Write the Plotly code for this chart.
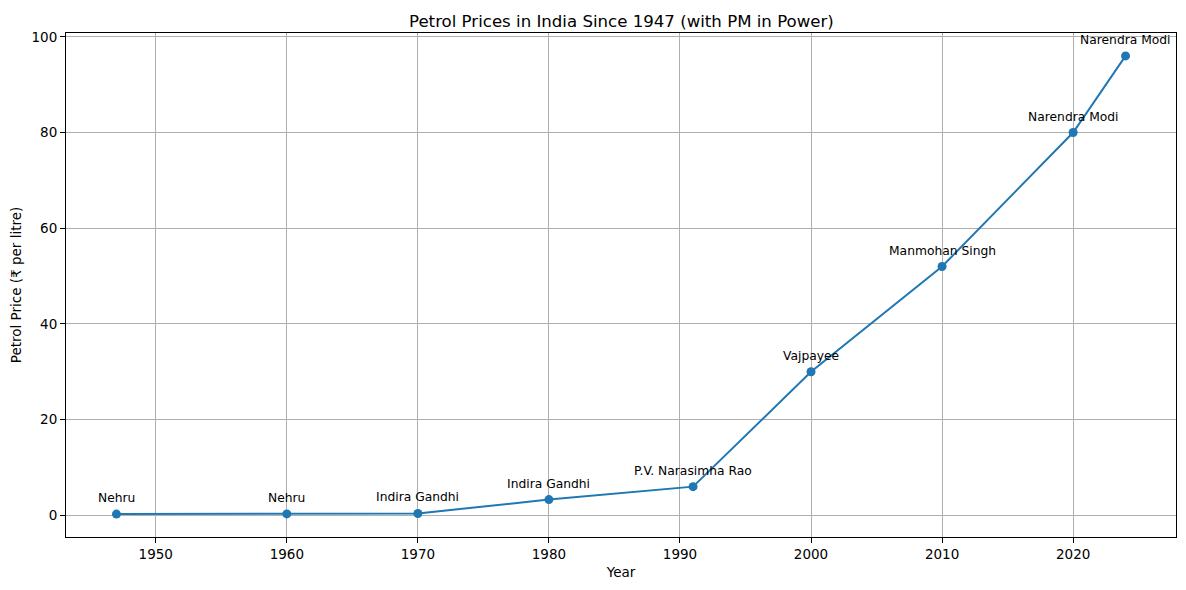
import plotly.graph_objects as go

years = [1947, 1960, 1970, 1980, 1991, 2000, 2010, 2020, 2024]
prices = [0.27, 0.30, 0.40, 3.3, 6.0, 30.0, 52.0, 80.0, 96.0]
pms = ["Nehru", "Nehru", "Indira Gandhi", "Indira Gandhi", "P.V. Narasimha Rao",
       "Vajpayee", "Manmohan Singh", "Narendra Modi", "Narendra Modi"]

title_text = "Petrol Prices in India Since 1947 (with PM in Power)"
x_label = "Year"
y_label = "Petrol Price (₹ per litre)"

FONT = "DejaVu Sans"
BLUE = "#1f77b4"

fig = go.Figure()
fig.add_trace(go.Scatter(
    x=years, y=prices, mode="lines+markers",
    line=dict(color=BLUE, width=2),
    marker=dict(color=BLUE, size=9),
    showlegend=False, hoverinfo="skip",
))

for xv, yv, t in zip(years, prices, pms):
    fig.add_annotation(x=xv, y=yv, text=t, showarrow=False,
                       xanchor="center", yanchor="bottom", yshift=7,
                       font=dict(family=FONT, size=12.3, color="black"))

fig.add_annotation(x=0.5, y=1, xref="paper", yref="paper", text=title_text,
                   showarrow=False, xanchor="center", yanchor="bottom", yshift=1,
                   borderpad=0,
                   font=dict(family=FONT, size=16.6, color="black"))

axis_common = dict(
    showline=True, linecolor="black", linewidth=1.1, mirror=True,
    showgrid=True, gridcolor="#b0b0b0", gridwidth=1.1,
    ticks="outside", ticklen=5, tickwidth=1.1, tickcolor="black",
    tickfont=dict(family=FONT, size=13.5, color="black"),
    zeroline=False, automargin=False,
)

fig.update_layout(
    width=1186, height=590,
    paper_bgcolor="white", plot_bgcolor="white",
    margin=dict(l=58, r=18, t=25, b=61),
    xaxis=dict(range=[1943.15, 2027.85], tickmode="linear", tick0=1950, dtick=10,
               title=dict(text=x_label, standoff=6,
                          font=dict(family=FONT, size=13.5, color="black")),
               **axis_common),
    yaxis=dict(range=[-4.52, 100.79], tickmode="linear", tick0=0, dtick=20,
               title=dict(text=y_label, standoff=14,
                          font=dict(family=FONT, size=13.5, color="black")),
               **axis_common),
)

fig.write_html("out.html")
